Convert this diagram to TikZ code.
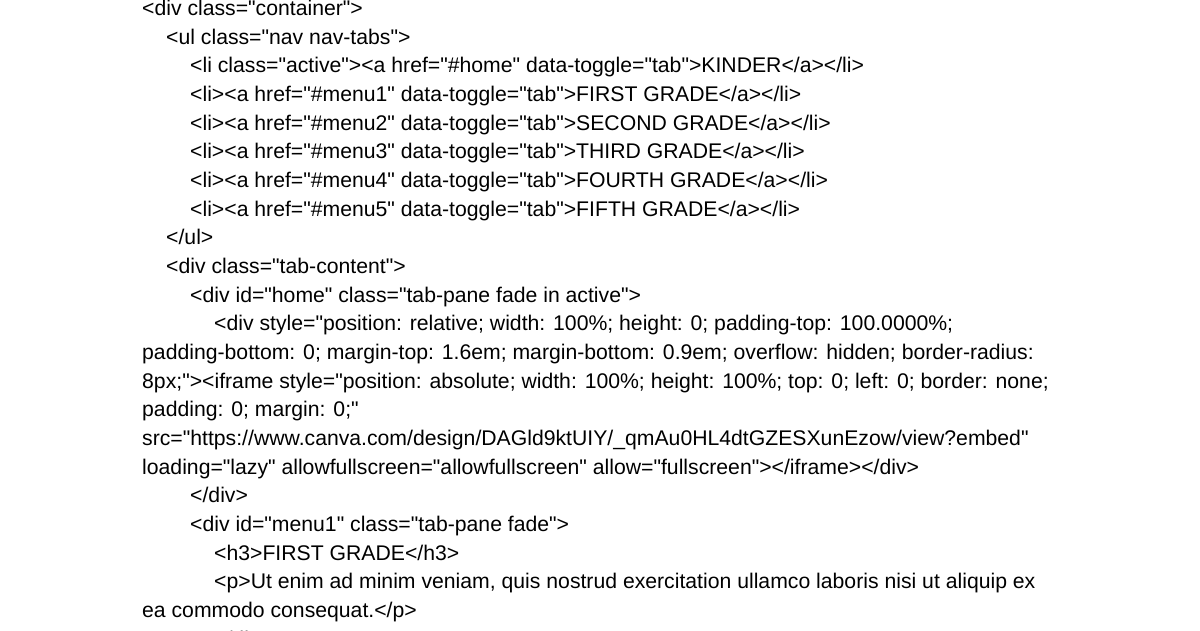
\documentclass[tikz,border=0pt]{standalone}
\usepackage{fontspec}
\setmainfont{Liberation Sans}[Ligatures=TeXOff]
\begin{document}
\begin{tikzpicture}[x=1pt,y=-1pt,
    codeline/.style={anchor=base west,inner sep=0pt,font=\fontsize{21.2}{22}\selectfont}]
  \useasboundingbox (0,0) rectangle (1200,630);
  \node[codeline] (l1) at (142,15.5) {<div class="container">};
  \node[codeline] (l2) at (166,44.1) {<ul class="nav nav-tabs">};
  \node[codeline] (l3) at (190,72.8) {<li class="active"><a href="\#home" data-toggle="tab">KINDER</a></li>};
  \node[codeline] (l4) at (190,101.5) {<li><a href="\#menu1" data-toggle="tab">FIRST GRADE</a></li>};
  \node[codeline] (l5) at (190,130.1) {<li><a href="\#menu2" data-toggle="tab">SECOND GRADE</a></li>};
  \node[codeline] (l6) at (190,158.8) {<li><a href="\#menu3" data-toggle="tab">THIRD GRADE</a></li>};
  \node[codeline] (l7) at (190,187.5) {<li><a href="\#menu4" data-toggle="tab">FOURTH GRADE</a></li>};
  \node[codeline] (l8) at (190,216.1) {<li><a href="\#menu5" data-toggle="tab">FIFTH GRADE</a></li>};
  \node[codeline] (l9) at (166,244.8) {</ul>};
  \node[codeline] (l10) at (166,273.5) {<div class="tab-content">};
  \node[codeline] (l11) at (190,302.1) {<div id="home" class="tab-pane fade in active">};
  \node[codeline] (l12) at (214,330.8) {<div style="position: relative; width: 100\%; height: 0; padding-top: 100.0000\%;};
  \node[codeline] (l13) at (142,359.5) {padding-bottom: 0; margin-top: 1.6em; margin-bottom: 0.9em; overflow: hidden; border-radius:};
  \node[codeline] (l14) at (142,388.1) {8px;"><iframe style="position: absolute; width: 100\%; height: 100\%; top: 0; left: 0; border: none;};
  \node[codeline] (l15) at (142,416.8) {padding: 0; margin: 0;"};
  \node[codeline] (l16) at (142,445.5) {src="https://www.canva.com/design/DAGld9ktUIY/\_qmAu0HL4dtGZESXunEzow/view?embed"};
  \node[codeline] (l17) at (142,474.1) {loading="lazy" allowfullscreen="allowfullscreen" allow="fullscreen"></iframe></div>};
  \node[codeline] (l18) at (190,502.8) {</div>};
  \node[codeline] (l19) at (190,531.5) {<div id="menu1" class="tab-pane fade">};
  \node[codeline] (l20) at (214,560.1) {<h3>FIRST GRADE</h3>};
  \node[codeline] (l21) at (214,588.8) {<p>Ut enim ad minim veniam, quis nostrud exercitation ullamco laboris nisi ut aliquip ex};
  \node[codeline] (l22) at (142,617.5) {ea commodo consequat.</p>};
  \node[codeline] (l23) at (214,646.1) {</div>};
\end{tikzpicture}
\end{document}
